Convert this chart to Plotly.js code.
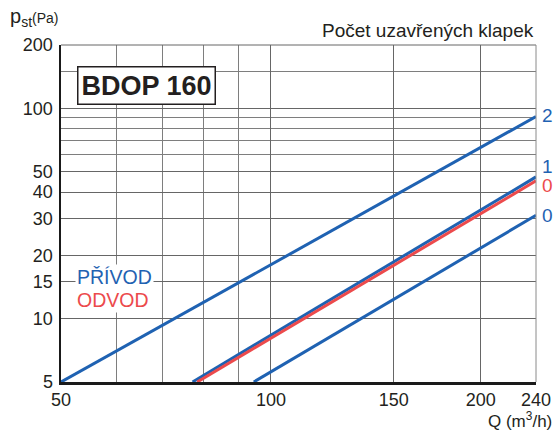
<!DOCTYPE html>
<html>
<head>
<meta charset="utf-8">
<script src="https://cdn.plot.ly/plotly-3.0.1.min.js"></script>
<style>
html,body{margin:0;padding:0;background:#fff;}
#chart{width:555px;height:432px;}
</style>
</head>
<body>
<div id="chart"></div>
<script>
// ---- data (log-log straight lines) ----
var qPrivod2 = [50, 240];
var pPrivod2 = [5, 91.4];
var qPrivod1 = [77.2, 240];
var pPrivod1 = [5, 47.2];
var qOdvod0 = [78.4, 240];
var pOdvod0 = [5, 45.2];
var qPrivod0 = [94.5, 240];
var pPrivod0 = [5, 31.0];

// labelled ticks
var xTickVals = [50, 100, 150, 200, 240];
var xTickText = ['50', '100', '150', '200', '240'];
var yTickVals = [5, 10, 15, 20, 30, 40, 50, 100, 200];
var yTickText = ['5', '10', '15', '20', '30', '40', '50', '100', '200'];
// unlabelled grid lines
var xMinorGrid = [60, 70, 80, 90];
var yMinorGrid = [60, 70, 80, 90, 150];

var blue = '#1f62b2';
var red = '#ec4a4c';
var txt = '#231f20';
var font = 'Liberation Sans, Arial, Helvetica, sans-serif';
var dark = '#666666';
var mid = '#7e7e7e';

function line(x, y, c) {
  return {x: x, y: y, type: 'scatter', mode: 'lines',
          line: {color: c, width: 3}, hoverinfo: 'skip', showlegend: false};
}

var traces = [
  line(qPrivod2, pPrivod2, blue),
  line(qPrivod1, pPrivod1, blue),
  line(qOdvod0, pOdvod0, red),
  line(qPrivod0, pPrivod0, blue)
];

function pxX(px) { return (px - 61) / 475; }
function pxY(py) { return (382 - py) / 337; }

var layout = {
  width: 555, height: 432,
  margin: {l: 61, r: 19, t: 45, b: 50},
  paper_bgcolor: '#fff', plot_bgcolor: '#fff',
  font: {family: font, color: txt, size: 18},
  xaxis: {
    type: 'log', range: [Math.log10(50), Math.log10(240)],
    tickmode: 'array', tickvals: xTickVals, ticktext: xTickText,
    ticks: '', showgrid: true, gridcolor: dark, gridwidth: 1,
    minor: {tickmode: 'array', tickvals: xMinorGrid, showgrid: true, gridcolor: mid, gridwidth: 1, ticks: ''},
    showline: true, linecolor: '#1a1a1a', linewidth: 2.5,
    zeroline: false, tickfont: {size: 18, color: txt}, automargin: false,
    fixedrange: true
  },
  yaxis: {
    type: 'log', range: [Math.log10(5), Math.log10(200)],
    tickmode: 'array', tickvals: yTickVals, ticktext: yTickText,
    ticks: '', showgrid: true, gridcolor: dark, gridwidth: 1,
    minor: {tickmode: 'array', tickvals: yMinorGrid, showgrid: true, gridcolor: mid, gridwidth: 1, ticks: ''},
    showline: true, linecolor: '#1a1a1a', linewidth: 2.5,
    zeroline: false, tickfont: {size: 18, color: txt}, automargin: false,
    ticklabelstandoff: 2, fixedrange: true
  },
  shapes: [
    {type: 'line', xref: 'paper', yref: 'paper', x0: 0, x1: 1, y0: 1, y1: 1, line: {color: dark, width: 1}},
    {type: 'line', xref: 'paper', yref: 'paper', x0: 1, x1: 1, y0: 0, y1: 1, line: {color: '#8a8a8a', width: 1}}
  ],
  annotations: [
    {xref: 'paper', yref: 'paper', x: pxX(8), y: pxY(17), xanchor: 'left', yanchor: 'middle', showarrow: false,
     text: 'p<sub>st</sub><span style="font-size:14px">(Pa)</span>', font: {size: 20, color: txt}},
    {xref: 'paper', yref: 'paper', x: pxX(536), y: pxY(31), xanchor: 'right', yanchor: 'middle', showarrow: false,
     text: 'Počet uzavřených klapek', font: {size: 19, color: txt}},
    {xref: 'paper', yref: 'paper', x: pxX(146.5), y: pxY(85.5), xanchor: 'center', yanchor: 'middle', showarrow: false,
     text: '<b>BDOP 160</b>', font: {size: 27, color: txt}, bgcolor: '#fff', bordercolor: '#231f20', borderwidth: 1.5, borderpad: 3},
    {xref: 'paper', yref: 'paper', x: pxX(75), y: pxY(277), xanchor: 'left', yanchor: 'middle', showarrow: false,
     text: 'PŘÍVOD', font: {size: 19.5, color: blue}, bgcolor: '#fff', borderpad: 1},
    {xref: 'paper', yref: 'paper', x: pxX(75), y: pxY(300), xanchor: 'left', yanchor: 'middle', showarrow: false,
     text: 'ODVOD', font: {size: 19.5, color: red}, bgcolor: '#fff', borderpad: 1},
    {xref: 'paper', yref: 'paper', x: pxX(540), y: pxY(116), xanchor: 'left', yanchor: 'middle', showarrow: false,
     text: '2', font: {size: 19, color: blue}},
    {xref: 'paper', yref: 'paper', x: pxX(540), y: pxY(166), xanchor: 'left', yanchor: 'middle', showarrow: false,
     text: '1', font: {size: 19, color: blue}},
    {xref: 'paper', yref: 'paper', x: pxX(540), y: pxY(185), xanchor: 'left', yanchor: 'middle', showarrow: false,
     text: '0', font: {size: 19, color: red}},
    {xref: 'paper', yref: 'paper', x: pxX(540), y: pxY(215), xanchor: 'left', yanchor: 'middle', showarrow: false,
     text: '0', font: {size: 19, color: blue}},
    {xref: 'paper', yref: 'paper', x: pxX(554), y: pxY(420), xanchor: 'right', yanchor: 'middle', showarrow: false,
     text: 'Q (m<sup>3</sup>/h)', font: {size: 17, color: txt}}
  ]
};

Plotly.newPlot('chart', traces, layout, {staticPlot: true, displayModeBar: false});
</script>
</body>
</html>
